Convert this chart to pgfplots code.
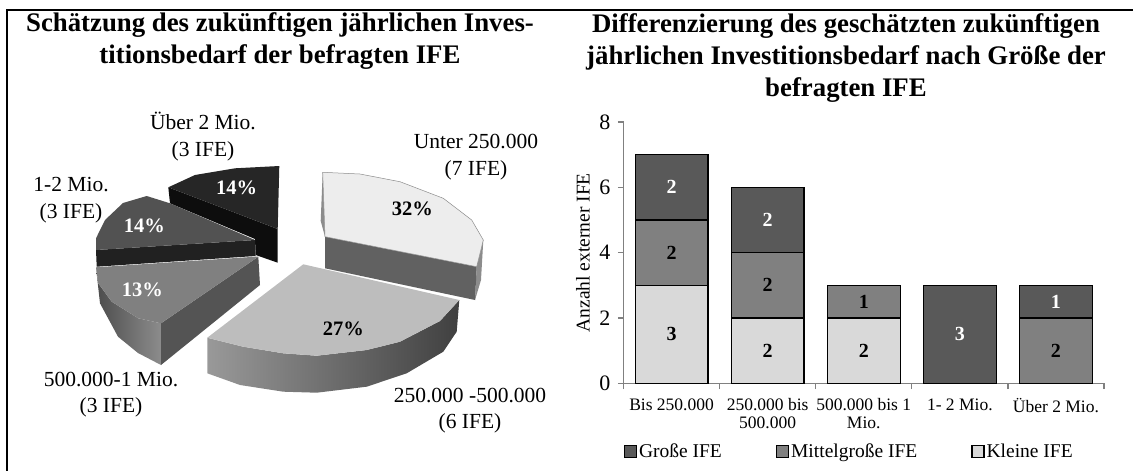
\documentclass[border=0pt]{standalone}
\usepackage{fontspec}
\usepackage{pgfplots}
\pgfplotsset{compat=1.18}
\setmainfont{Liberation Serif}
\definecolor{gross}{gray}{0.35}
\definecolor{mittel}{gray}{0.50}
\definecolor{klein}{gray}{0.85}
\begin{document}
\begin{tikzpicture}[x=1pt,y=1pt,plab/.style={font=\fontsize{21.5}{26.5}\selectfont,align=center},pct/.style={font=\fontsize{20.5}{22}\selectfont\bfseries}]
\path[use as bounding box] (0pt,0pt) rectangle (1133pt,471pt);
\begin{axis}[name=canvas,at={(0pt,0pt)},anchor=south west,width=1133pt,height=471pt,scale only axis,
  xmin=0,xmax=1133,ymin=0,ymax=471,y dir=reverse,hide axis,clip=false]
% frame
\addplot[black,line width=2.6pt] coordinates {(7,471)(7,10)(1133,10)};
% titles
\node[font=\fontsize{26.8}{32}\selectfont\bfseries,align=center] at (axis cs:280,41.5) {Schätzung des zukünftigen jährlichen Inves-\\titionsbedarf der befragten IFE};
\node[font=\fontsize{26.8}{32}\selectfont\bfseries,align=center] at (axis cs:846,58.5) {Differenzierung des geschätzten zukünftigen\\jährlichen Investitionsbedarf nach Größe der\\befragten IFE};
% pie: Über 2 Mio.
\addplot[fill=black!95,draw=none] coordinates {(168.3,187.3)(277.7,229)(277.7,262.7)(255.7,255)(255,239)(170,203.3)} --cycle;
\addplot[fill=black!85,draw=none] coordinates {(168.3,187.3)(195,175)(235,168.3)(279.3,166)(277.7,229)} --cycle;
% pie: 1-2 Mio.
\addplot[fill=black!87,draw=none] coordinates {(96,250)(255,240)(255.7,256)(96.7,266.7)} --cycle;
\addplot[fill=black!68,draw=none] coordinates {(96,250)(96,238.3)(105,220)(123,203)(146.7,196)(170,203.3)(255,240)} --cycle;
% pie: 500.000-1 Mio.
\addplot[draw=none,left color=black!70,right color=black!45] coordinates {(96,267.3)(98.3,283.3)(111.7,301.7)(138.3,318.3)(161,323.3)(161,365)(138,353)(118,336.7)(100,303.3)} --cycle;
\addplot[fill=black!67,draw=none] coordinates {(161,323.3)(258.3,256.7)(260,285)(161,365)} --cycle;
\addplot[fill=black!50,draw=none] coordinates {(96,267.3)(255.7,256.7)(258.3,256.7)(161,323.3)(138.3,318.3)(111.7,301.7)(98.3,283.3)} --cycle;
% pie: 250.000-500.000
\addplot[draw=none,left color=black!40,right color=black!75] coordinates {(207.3,337.7)(207.3,373.3)(240,385)(283.3,391.7)(316.7,392.7)(366.7,386.7)(406.7,373.3)(443.3,351.7)(456.7,331.7)(459.3,300)(440,321)(400,341.7)(366.7,350)(316.7,355.7)(283.3,353.3)(243.3,346.7)} --cycle;
\addplot[fill=black!26,draw=none] coordinates {(303.3,264.3)(459.3,300)(440,321)(400,341.7)(366.7,350)(316.7,355.7)(283.3,353.3)(243.3,346.7)(207.3,337.7)} --cycle;
% pie: Unter 250.000
\addplot[fill=black!45,draw=none] coordinates {(483.3,240)(476.7,266.7)(475,300)(481,280)} --cycle;
\addplot[fill=black!62,draw=none] coordinates {(325,236.7)(476.7,266.7)(475,300)(325,268.3)} --cycle;
\addplot[fill=black!45,draw=none] coordinates {(322.7,172.3)(325,236.7)(320.7,221)} --cycle;
\addplot[fill=black!7,draw=black!45,line width=0.5pt] coordinates {(322.7,172.3)(360,174)(400,181.7)(443.3,198.3)(471.7,220)(483.3,240)(476.7,266.7)(325,236.7)} --cycle;
% pie labels
\node[plab] at (axis cs:203,136.5) {Über 2 Mio.\\(3 IFE)};
\node[plab] at (axis cs:71,200) {1-2 Mio.\\(3 IFE)};
\node[plab] at (axis cs:476,157) {Unter 250.000\\(7 IFE)};
\node[plab] at (axis cs:111,394.5) {500.000-1 Mio.\\(3 IFE)};
\node[plab] at (axis cs:470,410.5) {250.000 -500.000\\(6 IFE)};
\node[pct,white] at (axis cs:236.7,188.3) {14\%};
\node[pct,white] at (axis cs:144.3,225.7) {14\%};
\node[pct,white] at (axis cs:142.3,290) {13\%};
\node[pct] at (axis cs:343.3,329) {27\%};
\node[pct] at (axis cs:412.3,209) {32\%};
\end{axis}
\begin{axis}[name=bars,at={(623.5pt,87.6pt)},anchor=south west,width=480.5pt,height=261.4pt,scale only axis,
  ybar stacked,bar width=72.8pt,xmin=-0.5,xmax=4.5,ymin=0,ymax=8,
  axis y line*=left,axis x line*=bottom,
  axis line style={black!50,line width=1.5pt},
  every axis plot/.append style={draw=black,line width=1.3pt},
  ytick={0,2,4,6,8},
  xtick={0,1,2,3,4},
  xticklabels={Bis 250.000,250.000 bis\\500.000,500.000 bis 1\\Mio.,1- 2 Mio.,Über 2 Mio.},
  x tick label style={font=\fontsize{17.5}{18}\selectfont,align=center,yshift=-6pt},
  major x tick style={draw=none},
  minor xtick={-0.5,0.5,1.5,2.5,3.5,4.5},
  minor x tick style={black!50,line width=1.3pt},
  minor tick length=5.7pt,
  y tick style={black!50,line width=1.3pt},
  tick align=outside,tick pos=left,
  major tick length=5.7pt,
  /pgf/number format/assume math mode=true,
  y tick label style={font=\fontsize{22}{24}\selectfont,xshift=-4pt},
  ylabel={Anzahl externer IFE},
  ylabel style={font=\fontsize{19.5}{22}\selectfont,yshift=2.5pt},
  nodes near coords,
  nodes near coords style={font=\fontsize{20}{22}\selectfont\bfseries,anchor=center},
  legend style={at={(0pt,-58.5pt)},anchor=north west,draw=none,fill=none,font=\fontsize{19.5}{22}\selectfont,
    legend columns=3,/tikz/every even column/.append style={column sep=52pt},inner sep=0pt},
  reverse legend,
  legend cell align=left,
  legend image code/.code={\draw[#1,line width=1.3pt] (0pt,-6pt) rectangle (12pt,6pt);},
  clip=false,
  ]
\addplot[fill=klein] coordinates {(0,3)(1,2)(2,2)(3,0)(4,0)};
\addplot[fill=mittel] coordinates {(0,2)(1,2)(2,1)(3,0)(4,2)};
\addplot[fill=gross,nodes near coords style={white}] coordinates {(0,2)(1,2)(2,0)(3,3)(4,1)};
\legend{Kleine IFE,Mittelgroße IFE,Große IFE}
\end{axis}
\end{tikzpicture}
\end{document}
